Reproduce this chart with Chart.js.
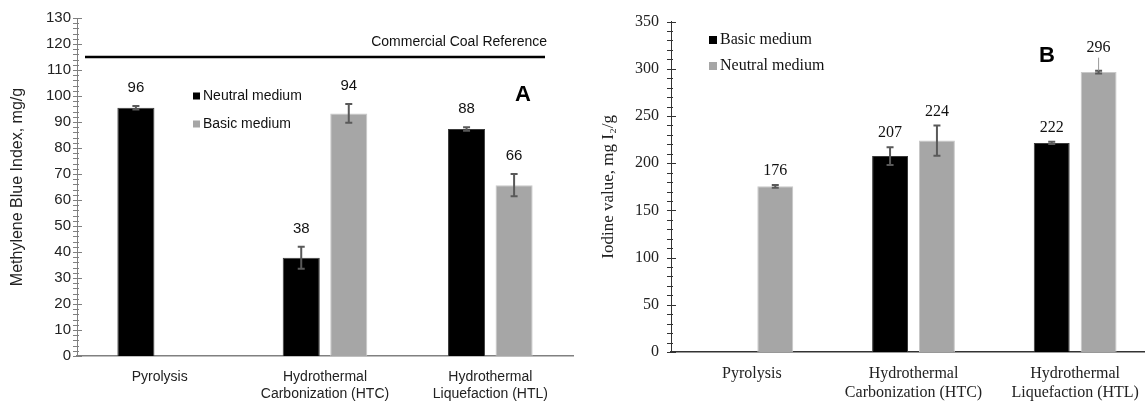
<!DOCTYPE html>
<html>
<head>
<meta charset="utf-8">
<script src="https://cdn.jsdelivr.net/npm/chart.js@4.4.1/dist/chart.umd.min.js"></script>
<style>
    html, body { margin: 0; padding: 0; background: #fff; overflow: hidden; width: 1145px; height: 403px; }
    #boxA { position: absolute; left: 0; top: 0; }
    #boxB { position: absolute; left: 575px; top: 0; }
</style>
</head>
<body>
<div id="boxA"><canvas id="chartA" width="575" height="403"></canvas></div>
<div id="boxB"><canvas id="chartB" width="583" height="403"></canvas></div>
<script>
// categories shared by both panels
const categories = ["Pyrolysis", ["Hydrothermal", "Carbonization (HTC)"], ["Hydrothermal", "Liquefaction (HTL)"]];

// panel A - methylene blue index (mg/g)
const mbNeutral = [95.5, 37.8, 87.3];
const mbNeutralErr = [0.7, 4.2, 0.7];
const mbNeutralText = ["96", "38", "88"];
const mbBasic = [null, 93.3, 65.7];
const mbBasicErr = [null, 3.6, 4.3];
const mbBasicText = [null, "94", "66"];
const mbTickValues = [0, 10, 20, 30, 40, 50, 60, 70, 80, 90, 100, 110, 120, 130];
const coalReference = 115;

// panel B - iodine value (mg I2/g)
const ivBasic = [null, 207.5, 221.5];
const ivBasicErr = [null, 9.5, 1.2];
const ivBasicText = [null, "207", "222"];
const ivNeutral = [175.5, 224, 296.5];
const ivNeutralErr = [1.5, 16, 1.5];
const ivNeutralText = ["176", "224", "296"];
const ivNeutralLeader = [0, 0, 1];
const ivTickValues = [0, 50, 100, 150, 200, 250, 300, 350];

const SANS = "'Liberation Sans', Arial, sans-serif";
const SERIF = "'Liberation Serif', 'Times New Roman', serif";

// error bars, value labels, minor ticks, legend and panel letter
const extras = {
    id: "extras",
    afterDatasetsDraw(chart, args, o) {
        const ctx = chart.ctx;
        const y = chart.scales.y;
        const area = chart.chartArea;
        ctx.save();

        // reference line
        if (o.refValue != null) {
            const ry = y.getPixelForValue(o.refValue);
            const x0 = area.left + o.refInsetL, x1 = area.right - o.refInsetR;
            ctx.strokeStyle = "#000";
            ctx.lineWidth = 2.5;
            ctx.beginPath(); ctx.moveTo(x0, ry); ctx.lineTo(x1, ry); ctx.stroke();
            ctx.fillStyle = "#111";
            ctx.font = o.refFont;
            ctx.textAlign = "right";
            ctx.textBaseline = "middle";
            ctx.fillText(o.refText, x1 + 2, ry - 15);
        }

        chart.data.datasets.forEach((ds, di) => {
            const meta = chart.getDatasetMeta(di);
            meta.data.forEach((bar, i) => {
                const v = ds.data[i];
                if (v == null) return;
                const e = ds.err[i] || 0;
                const yt = y.getPixelForValue(v + e);
                const yb = y.getPixelForValue(v - e);
                ctx.strokeStyle = o.errColor;
                ctx.lineWidth = 2;
                ctx.beginPath();
                ctx.moveTo(bar.x, yt); ctx.lineTo(bar.x, yb);
                ctx.moveTo(bar.x - 3.5, yt); ctx.lineTo(bar.x + 3.5, yt);
                ctx.moveTo(bar.x - 3.5, yb); ctx.lineTo(bar.x + 3.5, yb);
                ctx.stroke();

                let ly = yt - o.labelGap;
                if (ds.leader && ds.leader[i]) {
                    ly -= o.leaderLift;
                    ctx.strokeStyle = "#9a9a9a";
                    ctx.lineWidth = 1;
                    ctx.beginPath(); ctx.moveTo(bar.x, yt); ctx.lineTo(bar.x, ly + 10); ctx.stroke();
                }
                ctx.fillStyle = o.labelColor;
                ctx.font = o.labelFont;
                ctx.textAlign = "center";
                ctx.textBaseline = "middle";
                ctx.fillText(ds.text[i], bar.x, ly);
            });
        });

        // y tick marks (major and minor, crossing the axis)
        ctx.strokeStyle = o.tickColor;
        ctx.lineWidth = 1;
        ctx.beginPath();
        for (let v = y.min; v <= y.max + 1e-6; v += o.minorStep) {
            const py = Math.round(y.getPixelForValue(v)) + 0.5;
            const major = Math.abs(v / o.majorStep - Math.round(v / o.majorStep)) < 1e-6;
            ctx.moveTo(area.left - 4, py);
            ctx.lineTo(area.left + (major ? 5 : 2), py);
        }
        ctx.stroke();

        // legend
        ctx.font = o.legendFont;
        ctx.textAlign = "left";
        ctx.textBaseline = "middle";
        chart.data.datasets.forEach((ds, di) => {
            const ly = o.legendY + di * o.legendDy;
            ctx.fillStyle = ds.backgroundColor;
            ctx.fillRect(o.legendX, ly - o.legendBox / 2, o.legendBox, o.legendBox);
            ctx.fillStyle = "#111";
            ctx.fillText(ds.label, o.legendX + o.legendBox + 3, ly);
        });

        // panel letter
        ctx.font = "bold 22px " + SANS;
        ctx.fillStyle = "#000";
        ctx.textAlign = "center";
        ctx.fillText(o.letter, o.letterX, o.letterY);
        ctx.restore();
    }
};

function makeChart(id, cfg) {
    return new Chart(document.getElementById(id).getContext("2d"), {
        type: "bar",
        data: { labels: categories, datasets: cfg.datasets },
        options: {
            responsive: false,
            animation: false,
            devicePixelRatio: 1,
            layout: { padding: { left: 0, right: 2, top: 18, bottom: 0 } },
            datasets: { bar: { categoryPercentage: cfg.catPct, barPercentage: cfg.barPct } },
            plugins: { legend: { display: false }, tooltip: { enabled: false }, extras: cfg.extras },
            scales: {
                x: {
                    grid: { display: false, drawTicks: false },
                    border: { color: cfg.axisColor, width: 1.5 },
                    ticks: { font: cfg.xFont, color: "#222", padding: cfg.xPad, maxRotation: 0, autoSkip: false },
                    afterFit: s => { s.height = cfg.xHeight; }
                },
                y: {
                    min: cfg.yTicks[0],
                    max: cfg.yTicks[cfg.yTicks.length - 1],
                    afterBuildTicks: s => { s.ticks = cfg.yTicks.map(v => ({ value: v })); },
                    grid: { display: false, drawTicks: false },
                    border: { color: cfg.axisColor, width: 1 },
                    ticks: { font: cfg.yFont, color: "#222", padding: cfg.yPad },
                    title: { display: true, text: cfg.yTitle, font: cfg.titleFont, color: "#222", padding: { top: cfg.titlePad, bottom: 0 } },
                    afterFit: s => { s.width = cfg.yWidth; }
                }
            }
        },
        plugins: [extras]
    });
}

makeChart("chartA", {
    datasets: [
        { label: "Neutral medium", data: mbNeutral, err: mbNeutralErr, text: mbNeutralText,
          backgroundColor: "#000000", borderColor: "#3a3a3a", borderWidth: 1 },
        { label: "Basic medium", data: mbBasic, err: mbBasicErr, text: mbBasicText,
          backgroundColor: "#a6a6a6", borderColor: "#c8c8c8", borderWidth: 1 }
    ],
    catPct: 0.575, barPct: 0.78,
    axisColor: "#808080",
    xFont: { family: SANS, size: 14 }, xPad: 13, xHeight: 47,
    yTicks: mbTickValues, yFont: { family: SANS, size: 15 }, yPad: 6,
    yTitle: "Methylene Blue Index, mg/g", titleFont: { family: SANS, size: 16 }, titlePad: 8, yWidth: 77,
    extras: {
        refValue: coalReference, refText: "Commercial Coal Reference", refFont: "14px " + SANS, refInsetL: 8, refInsetR: 28,
        errColor: "#595959", labelGap: 18, labelFont: "15px " + SANS, labelColor: "#111",
        tickColor: "#808080", minorStep: 2, majorStep: 10,
        legendX: 193, legendY: 96, legendDy: 28, legendBox: 7, legendFont: "14px " + SANS,
        letter: "A", letterX: 523, letterY: 95
    }
});

makeChart("chartB", {
    datasets: [
        { label: "Basic medium", data: ivBasic, err: ivBasicErr, text: ivBasicText,
          backgroundColor: "#000000", borderColor: "#3a3a3a", borderWidth: 1 },
        { label: "Neutral medium", data: ivNeutral, err: ivNeutralErr, text: ivNeutralText, leader: ivNeutralLeader,
          backgroundColor: "#a6a6a6", borderColor: "#c8c8c8", borderWidth: 1 }
    ],
    catPct: 0.58, barPct: 0.766,
    axisColor: "#333333",
    xFont: { family: SERIF, size: 16 }, xPad: 12, xHeight: 51,
    yTicks: ivTickValues, yFont: { family: SERIF, size: 16 }, yPad: 12,
    yTitle: "Iodine value, mg I\u2082/g", titleFont: { family: SERIF, size: 17 }, titlePad: 23, yWidth: 96,
    extras: {
        errColor: "#595959", labelGap: 14, leaderLift: 9, labelFont: "16px " + SERIF, labelColor: "#111",
        tickColor: "#333333", minorStep: 10, majorStep: 50,
        legendX: 134, legendY: 40, legendDy: 26, legendBox: 8, legendFont: "16px " + SERIF,
        letter: "B", letterX: 472, letterY: 56
    }
});
</script>
</body>
</html>
